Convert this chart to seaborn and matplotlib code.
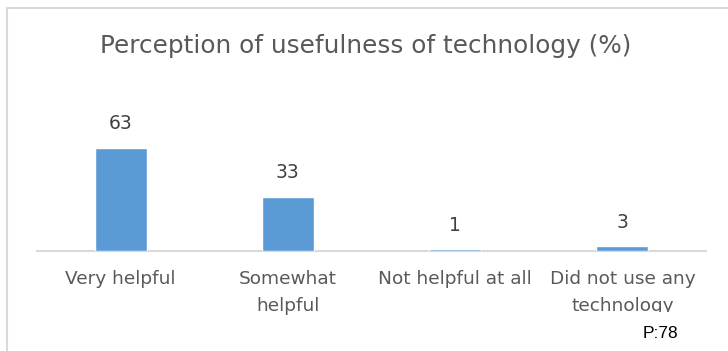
import matplotlib
matplotlib.use("Agg")
import matplotlib.pyplot as plt
import seaborn as sns
import pandas as pd
from matplotlib.patches import Rectangle
from matplotlib.transforms import Bbox

categories = ["Very helpful", "Somewhat\nhelpful", "Not helpful at all", "Did not use any\ntechnology"]
values = [63, 33, 1, 3]
title = "Perception of usefulness of technology (%)"
note = "P:78"

sns.set_theme(style="white")
plt.rcParams["font.family"] = ["DejaVu Sans"]

W, H = 728, 351
fig = plt.figure(figsize=(W / 100, H / 100), dpi=100)

# chart frame (top and left edges visible)
fig.patches.append(Rectangle((7 / W, -0.1), 1.2, (H - 8) / H + 0.1, transform=fig.transFigure,
                             fill=False, edgecolor="#d9d9d9", linewidth=1.5))

base_y = 251
ymax = 70
px_per_unit = 1.635
ax_h = ymax * px_per_unit
ax = fig.add_axes([37 / W, (H - base_y) / H, (706 - 37) / W, ax_h / H])

df = pd.DataFrame({"category": categories, "value": values})
sns.barplot(data=df, x="category", y="value", color="#5b9bd5", saturation=1,
            width=0.31, ax=ax, zorder=3)
ax.set_ylim(0, ymax)
ax.set_xlim(-0.5, 3.5)

for s in ["top", "right", "left"]:
    ax.spines[s].set_visible(False)
ax.spines["bottom"].set_color("#d9d9d9")
ax.spines["bottom"].set_linewidth(1.5)
ax.spines["bottom"].set_zorder(1)
ax.set_yticks([])
ax.set_xlabel("")
ax.set_ylabel("")
ax.tick_params(axis="x", length=0, pad=14, labelsize=13.3, labelcolor="#595959")

labels = ax.get_xticklabels()
for lbl in labels:
    lbl.set_linespacing(1.6)
# the last label's second line runs past the text area and is cut off
labels[-1].set_clip_on(True)
labels[-1].set_clip_box(Bbox.from_extents(0, H - 312, W, H))

for i, v in enumerate(values):
    ax.annotate(str(v), (i, v), xytext=(0, 10.5), textcoords="offset points",
                ha="center", va="bottom", fontsize=13.5, color="#404040")

fig.text(366 / W, 1 - 46 / H, title, ha="center", va="center", fontsize=17.8, color="#595959")
fig.text(660 / W, 1 - 334 / H, note, ha="center", va="center", fontsize=12.5,
         color="black", family=["Liberation Sans", "DejaVu Sans"])

fig.savefig("out.png", dpi=100)
